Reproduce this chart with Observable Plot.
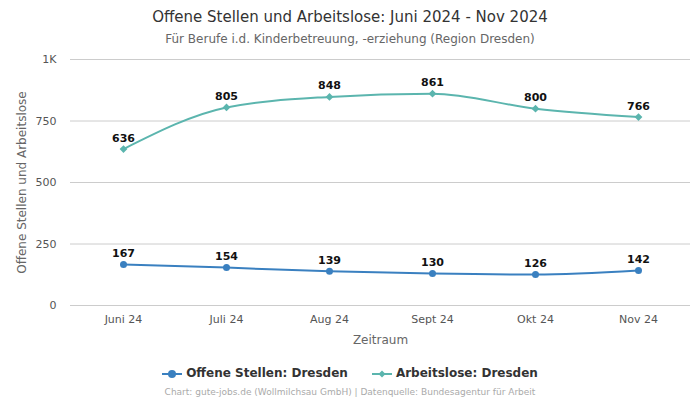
<!DOCTYPE html>
<html><head><meta charset="utf-8">
<script src="https://cdn.jsdelivr.net/npm/d3@7"></script>
<script src="https://cdn.jsdelivr.net/npm/@observablehq/plot@0.6"></script>
<style>
body{margin:0;width:700px;height:400px;font-family:"DejaVu Sans",sans-serif;background:#fff;overflow:hidden}
#title{position:absolute;top:8px;left:0;width:700px;text-align:center;font-size:15px;color:#333}
#sub{position:absolute;top:32px;left:0;width:700px;text-align:center;font-size:12px;color:#666}
#chart{position:absolute;top:48px;left:0}
#legend{position:absolute;top:366px;left:0;width:700px;text-align:center;font-size:12px;font-weight:bold;color:#333}
#legend span{margin:0 12px}
#cap{position:absolute;top:387px;left:0;width:700px;text-align:center;font-size:9px;color:#aaa}
</style></head><body>
<div id="title">Offene Stellen und Arbeitslose: Juni 2024 - Nov 2024</div>
<div id="sub">Für Berufe i.d. Kinderbetreuung, -erziehung (Region Dresden)</div>
<div id="chart"></div>
<div id="legend"></div>
<div id="cap">Chart: gute-jobs.de (Wollmilchsau GmbH) | Datenquelle: Bundesagentur für Arbeit</div>
<script>
const months = ["Juni 24","Juli 24","Aug 24","Sept 24","Okt 24","Nov 24"];
const offeneStellen = [167,154,139,130,126,142];
const arbeitslose = [636,805,848,861,800,766];
const seriesNames = ["Offene Stellen: Dresden","Arbeitslose: Dresden"];
const seriesColors = ["#3a80c0","#5bb5ae"];
const yTicks = [0,250,500,750,1000];

const data = [];
months.forEach((m,i)=>{
  data.push({month:m, value:offeneStellen[i], series:seriesNames[0]});
  data.push({month:m, value:arbeitslose[i], series:seriesNames[1]});
});
const os = data.filter(d=>d.series===seriesNames[0]);
const al = data.filter(d=>d.series===seriesNames[1]);
const fmt = d=>d===1000?"1K":d3.format("d")(d);

const chart = Plot.plot({
  width:700, height:300,
  marginLeft:70, marginRight:10, marginTop:11, marginBottom:43,
  style:{fontFamily:"DejaVu Sans, sans-serif", fontSize:"11px", color:"#555", overflow:"visible"},
  x:{type:"point", domain:months, padding:0.5},
  y:{domain:[0,1000]},
  marks:[
    Plot.gridY(yTicks,{stroke:"#ccc", strokeOpacity:1}),
    Plot.axisX({tickSize:0, tickPadding:10, label:null, fill:"#555", fontSize:11}),
    Plot.text(["Zeitraum"],{frameAnchor:"bottom", dy:38, text:d=>d, fill:"#666", fontSize:12}),
    Plot.axisY({ticks:yTicks, tickSize:0, tickPadding:14, tickFormat:fmt, label:null, fill:"#555", fontSize:11}),
    Plot.text(["Offene Stellen und Arbeitslose"],{frameAnchor:"left", dx:-48, rotate:-90, textAnchor:"middle", text:d=>d, fill:"#666", fontSize:12}),
    Plot.line(os,{x:"month", y:"value", stroke:seriesColors[0], strokeWidth:2, curve:"monotone-x"}),
    Plot.line(al,{x:"month", y:"value", stroke:seriesColors[1], strokeWidth:2, curve:"monotone-x"}),
    Plot.dot(os,{x:"month", y:"value", fill:seriesColors[0], r:3.5, symbol:"circle"}),
    Plot.dot(al,{x:"month", y:"value", fill:seriesColors[1], r:3.5, symbol:"diamond2"}),
    Plot.text(data,{x:"month", y:"value", text:"value", dy:-11, fill:"#111", fontWeight:"bold", fontSize:11})
  ]
});
document.getElementById("chart").appendChild(chart);

const leg = document.getElementById("legend");
seriesNames.forEach((n,i)=>{
  const s = document.createElement("span");
  const sym = i===0
    ? `<svg width="20" height="10" style="vertical-align:middle;margin-right:4px"><line x1="0" y1="5" x2="20" y2="5" stroke="${seriesColors[i]}" stroke-width="2"/><circle cx="10" cy="5" r="4" fill="${seriesColors[i]}"/></svg>`
    : `<svg width="20" height="10" style="vertical-align:middle;margin-right:4px"><line x1="0" y1="5" x2="20" y2="5" stroke="${seriesColors[i]}" stroke-width="2"/><path d="M10,1.5 L13.5,5 L10,8.5 L6.5,5Z" fill="${seriesColors[i]}"/></svg>`;
  s.innerHTML = sym + n;
  leg.appendChild(s);
});
</script>
</body></html>
